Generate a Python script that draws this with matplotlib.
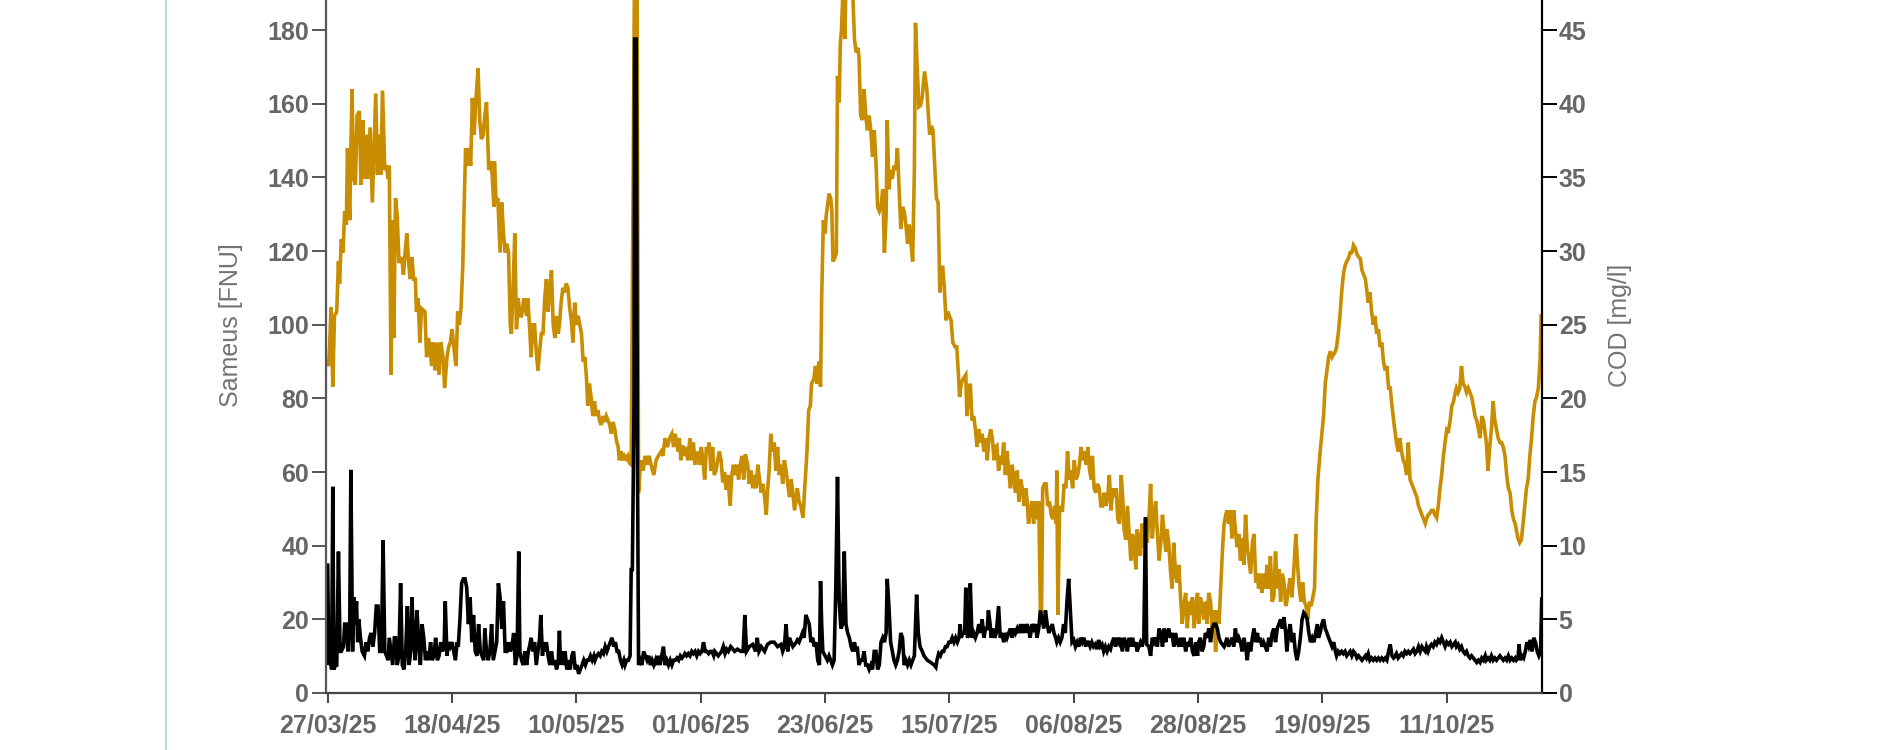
import datetime as dt
import matplotlib
matplotlib.use("Agg")
import matplotlib.pyplot as plt
import matplotlib.dates as mdates
from matplotlib import font_manager
from matplotlib.lines import Line2D

start_date = dt.datetime(2025, 3, 27)

# Sameus turbidity [FNU] (left axis): time in days after 27/03/25
sameus_day = [
    0.0, 0.2, 0.5, 0.7, 0.9, 1.1, 1.4, 1.6, 1.9, 2.2, 2.4, 2.8, 3.0, 3.3, 3.6, 3.9, 4.1, 4.4, 4.6, 4.8,
    5.1, 5.3, 5.5, 5.8, 6.1, 6.5, 6.8, 7.1, 7.4, 7.7, 8.0, 8.3, 8.6, 8.9, 9.2, 9.5, 9.8, 10.1, 10.4, 10.7,
    10.9, 11.2, 11.5, 11.8, 12.0, 12.3, 12.6, 12.9, 13.2, 13.5, 13.8, 14.1, 14.4, 14.7, 14.9, 15.2, 15.5, 15.8, 16.1, 16.4,
    16.7, 17.0, 17.3, 17.6, 17.9, 18.2, 18.5, 18.8, 19.1, 19.4, 19.7, 20.0, 20.3, 20.6, 20.8, 21.1, 21.4, 21.7, 22.0, 22.3,
    22.6, 22.9, 23.1, 23.4, 23.7, 24.0, 24.3, 24.6, 24.9, 25.2, 25.5, 25.8, 26.1, 26.4, 26.7, 27.0, 27.3, 27.6, 27.8, 28.1,
    28.4, 28.7, 29.0, 29.3, 29.6, 29.9, 30.2, 30.5, 30.8, 31.1, 31.4, 31.7, 32.0, 32.3, 32.6, 32.9, 33.2, 33.5, 33.8, 34.0,
    34.3, 34.6, 34.9, 35.2, 35.5, 35.7, 36.0, 36.3, 36.6, 36.9, 37.2, 37.5, 37.7, 38.0, 38.2, 38.4, 38.7, 39.0, 39.3, 39.6,
    39.9, 40.2, 40.5, 40.8, 41.0, 41.2, 41.5, 41.8, 42.0, 42.3, 42.6, 42.9, 43.2, 43.5, 43.8, 44.1, 44.4, 44.7, 45.0, 45.3,
    45.6, 45.9, 46.2, 46.5, 46.8, 47.1, 47.3, 47.6, 47.9, 48.2, 48.5, 48.8, 49.1, 49.4, 49.7, 50.0, 50.3, 50.6, 50.9, 51.2,
    51.5, 51.8, 52.1, 52.4, 52.6, 52.9, 53.2, 53.5, 53.7, 53.9, 54.2, 54.3, 54.6, 54.8, 55.0, 55.3, 55.6, 55.9, 56.2, 56.5,
    56.8, 57.1, 57.4, 57.7, 58.0, 58.2, 58.5, 58.8, 59.1, 59.4, 59.7, 60.0, 60.3, 60.6, 60.9, 61.2, 61.5, 61.8, 62.1, 62.4,
    62.7, 63.0, 63.2, 63.5, 63.8, 64.1, 64.4, 64.7, 65.0, 65.3, 65.6, 65.9, 66.2, 66.5, 66.8, 67.1, 67.4, 67.7, 68.0, 68.3,
    68.5, 68.8, 69.1, 69.4, 69.7, 70.0, 70.3, 70.6, 70.9, 71.3, 72.0, 72.5, 73.1, 73.5, 73.8, 74.1, 74.6, 75.2, 75.7, 76.0,
    76.3, 76.7, 77.3, 77.8, 78.4, 79.0, 79.6, 80.2, 80.5, 80.8, 81.1, 81.4, 81.7, 82.0, 82.3, 82.6, 82.9, 83.1, 83.4, 83.7,
    84.0, 84.3, 84.6, 84.9, 85.2, 85.5, 85.8, 86.1, 86.4, 86.7, 87.0, 87.2, 87.4, 87.6, 88.0, 88.4, 88.7, 89.0, 89.3, 89.6,
    89.9, 90.2, 90.5, 90.8, 91.1, 91.4, 91.7, 92.0, 92.3, 92.6, 92.9, 93.2, 93.5, 93.7, 94.0, 94.3, 94.6, 94.9, 95.2, 95.5,
    95.8, 96.1, 96.4, 96.7, 97.0, 97.3, 97.6, 97.9, 98.2, 98.5, 98.8, 99.0, 99.3, 99.6, 99.9, 100.2, 100.5, 100.8, 101.1, 101.4,
    101.7, 102.0, 102.3, 102.6, 102.9, 103.2, 103.5, 103.8, 104.2, 104.5, 104.8, 105.2, 105.5, 106.1, 106.7, 107.3, 107.6, 107.8, 108.1, 108.4,
    108.7, 109.0, 109.3, 109.6, 109.9, 110.2, 110.5, 110.8, 111.1, 111.4, 111.7, 111.9, 112.1, 112.4, 112.7, 112.9, 113.2, 113.5, 113.7, 114.0,
    114.3, 114.6, 114.9, 115.2, 115.5, 115.8, 116.1, 116.4, 116.7, 116.9, 117.2, 117.4, 117.7, 118.0, 118.3, 118.7, 119.0, 119.3, 119.6, 119.9,
    120.2, 120.5, 120.8, 121.1, 121.4, 121.7, 122.0, 122.3, 122.6, 122.9, 123.2, 123.5, 123.7, 124.0, 124.3, 124.6, 124.9, 125.2, 125.5, 125.8,
    126.1, 126.4, 126.7, 127.0, 127.3, 127.6, 127.9, 128.2, 128.5, 128.8, 129.0, 129.3, 129.6, 129.9, 130.2, 130.5, 130.8, 131.1, 131.4, 131.7,
    132.0, 132.3, 132.6, 132.9, 133.2, 133.5, 133.8, 134.1, 134.3, 134.6, 134.9, 135.2, 135.5, 135.8, 136.1, 136.4, 136.7, 137.0, 137.3, 137.6,
    137.9, 138.2, 138.5, 138.8, 139.1, 139.4, 139.7, 140.0, 140.2, 140.6, 140.9, 141.2, 141.5, 141.8, 142.1, 142.4, 142.7, 143.0, 143.2, 143.5,
    143.8, 144.1, 144.4, 144.7, 144.9, 145.3, 145.6, 145.9, 146.2, 146.5, 146.8, 147.1, 147.4, 147.7, 148.0, 148.3, 148.5, 148.8, 149.1, 149.4,
    149.7, 150.0, 150.3, 150.6, 150.9, 151.2, 151.5, 151.8, 152.1, 152.4, 152.7, 153.0, 153.3, 153.6, 153.9, 154.1, 154.4, 154.7, 155.0, 155.3,
    155.6, 155.9, 156.2, 156.5, 156.8, 157.1, 157.4, 157.7, 158.0, 158.3, 158.6, 158.9, 159.1, 159.4, 159.7, 160.0, 160.3, 160.6, 160.9, 161.2,
    161.5, 161.8, 162.1, 162.4, 162.7, 163.0, 163.3, 163.6, 163.9, 164.2, 164.5, 164.7, 165.0, 165.3, 165.6, 165.9, 166.2, 166.5, 166.8, 167.1,
    167.4, 167.7, 168.0, 168.3, 168.6, 168.9, 169.2, 169.5, 169.7, 170.0, 170.3, 170.6, 170.9, 171.2, 171.5, 171.8, 172.1, 172.4, 172.7, 173.0,
    173.3, 173.6, 173.9, 174.2, 174.5, 174.8, 175.1, 175.3, 175.6, 175.9, 176.2, 176.5, 176.8, 177.1, 177.4, 177.7, 178.0, 178.3, 178.5, 178.8,
    179.1, 179.4, 179.7, 180.0, 180.3, 180.6, 180.9, 181.2, 181.5, 181.8, 182.1, 182.4, 182.7, 183.0, 183.3, 183.6, 183.8, 184.1, 184.4, 184.7,
    185.0, 185.3, 185.6, 185.9, 186.2, 186.5, 186.8, 187.1, 187.4, 187.7, 188.0, 188.3, 188.6, 188.9, 189.1, 189.4, 189.7, 190.0, 190.3, 190.6,
    190.9, 191.2, 191.5, 191.8, 192.1, 192.4, 192.7, 193.0, 193.3, 193.6, 193.9, 194.2, 194.4, 194.7, 195.0, 195.3, 195.6, 195.9, 196.2, 196.5,
    196.8, 197.1, 197.4, 197.7, 198.0, 198.3, 198.6, 198.9, 199.2, 199.5, 199.7, 200.0, 200.3, 200.6, 200.9, 201.2, 201.5, 201.8, 202.1, 202.4,
    202.7, 203.0, 203.3, 203.6, 203.9, 204.2, 204.5, 204.8, 205.0, 205.3, 205.6, 205.9, 206.2, 206.5, 206.8, 207.1, 207.4, 207.7, 208.0, 208.3,
    208.6, 208.9, 209.2, 209.5, 209.8, 210.1, 210.3, 210.6, 210.8, 211.0, 211.3, 211.6, 211.9, 212.2, 212.5, 212.8, 213.1, 213.4, 213.7, 214.0,
    214.3, 214.6, 214.8,
]
sameus_fnu = [
    34.7, 7.6, 8.9, 6.4, 56.0, 6.4, 7.6, 7.6, 38.4, 11.3, 11.3, 12.6, 18.7, 18.7, 11.3, 18.7, 60.6, 11.3, 26.0, 18.7,
    24.9, 13.8, 20.0, 15.0, 11.3, 10.1, 13.8, 11.3, 15.0, 16.3, 12.6, 16.3, 23.6, 23.6, 11.3, 11.3, 41.5, 11.3, 10.1, 8.9,
    15.0, 11.3, 7.6, 15.0, 15.0, 7.6, 10.1, 29.8, 7.6, 6.4, 11.3, 23.6, 7.6, 11.3, 26.0, 15.0, 8.9, 22.4, 13.8, 7.6,
    18.7, 15.0, 8.9, 11.3, 8.9, 13.8, 8.9, 10.1, 15.0, 8.9, 10.1, 13.8, 11.3, 12.6, 24.9, 10.1, 13.8, 12.6, 13.8, 11.3,
    8.9, 13.8, 12.6, 20.0, 29.8, 31.0, 31.0, 28.6, 18.7, 26.0, 13.8, 21.2, 11.3, 10.1, 18.7, 11.3, 10.1, 8.9, 17.5, 11.3,
    8.9, 11.3, 18.7, 8.9, 11.3, 13.8, 29.8, 26.0, 17.5, 24.9, 11.3, 11.3, 13.8, 11.3, 12.6, 16.3, 7.6, 10.1, 38.4, 11.3,
    8.9, 7.6, 11.3, 7.6, 11.3, 12.6, 15.0, 11.3, 13.8, 7.6, 11.3, 15.0, 21.2, 10.1, 13.8, 11.3, 13.8, 10.1, 7.6, 11.3,
    7.6, 8.9, 6.4, 8.9, 16.9, 7.6, 11.3, 7.6, 11.3, 6.4, 8.9, 6.4, 10.1, 11.3, 6.4, 7.6, 5.2, 6.4, 7.6, 8.9,
    7.6, 8.9, 8.9, 10.1, 8.9, 10.1, 8.9, 10.1, 10.7, 10.1, 11.3, 10.7, 12.6, 11.3, 12.6, 13.8, 15.0, 12.6, 13.8, 11.3,
    11.3, 8.9, 7.6, 8.9, 7.6, 8.9, 8.9, 10.1, 33.5, 33.5, 77.8, 177.6, 177.6, 65.5, 7.6, 8.9, 7.6, 11.3, 10.1, 8.9,
    10.1, 7.6, 8.9, 7.6, 8.9, 7.6, 10.1, 7.6, 10.1, 12.6, 7.6, 8.9, 7.6, 8.9, 7.6, 8.9, 8.9, 9.5, 8.9, 10.1,
    9.5, 10.1, 10.7, 10.1, 10.7, 10.1, 11.3, 10.7, 11.3, 10.1, 11.3, 10.7, 11.3, 13.8, 11.3, 11.3, 10.7, 11.3, 11.3, 10.1,
    11.3, 10.7, 10.1, 10.7, 11.3, 12.6, 10.7, 11.9, 11.3, 12.6, 11.3, 11.9, 11.3, 11.3, 21.2, 11.3, 12.6, 13.2, 11.3, 15.0,
    11.3, 12.6, 11.3, 13.2, 13.8, 13.8, 12.6, 13.2, 11.3, 12.6, 18.7, 11.3, 15.0, 13.8, 12.6, 13.2, 13.8, 14.4, 13.8, 15.0,
    16.3, 15.0, 21.2, 20.0, 18.7, 13.8, 15.0, 12.6, 13.8, 8.9, 7.6, 30.4, 18.7, 11.3, 10.1, 8.9, 10.1, 8.9, 7.6, 8.9,
    28.6, 58.7, 24.9, 17.5, 18.7, 38.4, 18.7, 16.3, 15.0, 12.6, 11.3, 13.8, 11.3, 12.6, 7.6, 8.9, 8.9, 11.3, 7.6, 7.6,
    6.4, 7.6, 6.4, 11.3, 11.3, 6.4, 7.6, 13.8, 15.0, 13.8, 16.3, 31.0, 23.6, 13.8, 11.3, 8.9, 7.6, 8.9, 11.3, 16.3,
    15.0, 7.6, 8.9, 7.6, 8.9, 7.6, 8.9, 10.1, 26.7, 16.3, 12.6, 11.3, 10.1, 8.9, 8.3, 7.6, 7.0, 8.9, 10.7, 10.1,
    11.3, 11.3, 12.6, 12.6, 13.8, 13.8, 15.0, 13.8, 15.0, 13.8, 15.0, 18.7, 15.0, 16.3, 16.3, 28.6, 15.0, 16.3, 29.8, 15.0,
    16.3, 15.0, 16.3, 18.7, 16.3, 20.0, 15.0, 17.5, 17.5, 22.4, 18.7, 15.0, 17.5, 15.0, 16.3, 23.6, 15.0, 16.3, 13.8, 16.3,
    15.0, 16.3, 17.5, 15.0, 17.5, 16.3, 17.5, 16.3, 18.7, 16.3, 18.7, 16.3, 18.7, 17.5, 15.0, 18.7, 17.5, 18.7, 15.0, 17.5,
    22.4, 20.0, 17.5, 22.4, 18.7, 16.3, 17.5, 18.7, 16.3, 15.0, 13.8, 15.0, 13.8, 15.0, 18.7, 16.3, 24.9, 31.0, 22.4, 13.8,
    14.4, 12.6, 13.8, 12.6, 15.0, 13.8, 15.0, 12.6, 13.8, 13.8, 12.6, 13.8, 12.6, 13.2, 11.9, 14.4, 12.6, 13.2, 11.3, 12.6,
    11.3, 12.6, 11.9, 13.8, 15.0, 12.6, 15.0, 13.8, 15.0, 11.3, 15.0, 13.8, 11.3, 15.0, 12.6, 15.0, 12.6, 13.8, 11.3, 12.6,
    13.8, 12.6, 15.0, 47.7, 13.2, 12.6, 10.1, 15.0, 13.8, 15.0, 12.6, 17.5, 16.3, 12.6, 17.5, 13.8, 16.3, 17.5, 15.0, 16.3,
    12.6, 16.3, 13.8, 12.6, 15.0, 12.6, 15.0, 11.3, 13.8, 12.6, 15.0, 11.3, 10.1, 13.8, 10.1, 13.8, 15.0, 11.3, 12.6, 16.3,
    15.0, 17.5, 13.8, 17.5, 18.7, 18.7, 17.5, 15.0, 13.8, 13.2, 12.6, 13.8, 15.0, 12.6, 13.8, 15.0, 12.6, 17.5, 13.8, 15.0,
    13.8, 11.3, 15.0, 12.6, 8.9, 13.8, 11.3, 15.0, 17.5, 13.8, 16.3, 13.8, 15.0, 12.6, 13.8, 12.6, 11.3, 15.0, 12.6, 16.3,
    17.5, 13.8, 17.5, 18.7, 20.0, 17.5, 20.6, 16.3, 11.3, 16.3, 18.7, 13.8, 16.3, 11.3, 8.9, 11.3, 15.0, 20.0, 21.8, 21.2,
    20.0, 16.3, 13.8, 15.0, 13.8, 16.3, 18.7, 15.0, 16.3, 18.7, 20.0, 17.5, 16.3, 15.0, 13.8, 12.6, 13.8, 11.3, 10.1, 11.3,
    10.7, 11.3, 10.7, 11.3, 10.1, 10.7, 11.3, 10.1, 11.3, 10.7, 9.5, 10.1, 9.5, 8.9, 9.5, 10.1, 9.5, 10.7, 8.9, 9.5,
    8.9, 9.5, 8.9, 9.5, 8.9, 9.5, 8.9, 9.5, 8.9, 11.3, 13.2, 10.1, 9.5, 10.1, 10.7, 9.5, 10.1, 10.7, 10.1, 11.3,
    10.7, 11.3, 10.7, 11.3, 11.9, 10.7, 11.3, 12.6, 11.3, 12.6, 11.9, 11.3, 12.6, 11.3, 12.6, 13.2, 12.6, 13.8, 13.2, 14.4,
    13.8, 15.0, 13.8, 12.6, 13.8, 13.2, 13.8, 12.6, 13.2, 13.8, 12.6, 13.2, 11.9, 12.6, 11.3, 10.7, 11.3, 10.1, 9.5, 10.1,
    9.5, 8.9, 8.3, 8.9, 8.3, 9.5, 8.9, 10.1, 8.9, 9.5, 8.9, 10.1, 8.9, 9.5, 8.9, 9.5, 10.1, 9.5, 8.9, 9.5,
    8.9, 10.1, 8.9, 9.5, 8.9, 9.5, 8.9, 9.5, 13.2, 8.9, 10.1, 9.5, 11.3, 13.8, 12.6, 14.4, 11.3, 15.0, 13.8, 11.3,
    10.1, 11.3, 25.5,
]

# COD [mg/l] (right axis): time in days after 27/03/25
cod_day = [
    0.0, 0.2, 0.6, 0.9, 1.2, 1.6, 1.9, 2.1, 2.4, 2.7, 3.0, 3.3, 3.5, 3.9, 4.1, 4.3, 4.6, 4.9, 5.2, 5.6,
    5.9, 6.2, 6.5, 6.8, 7.1, 7.5, 7.9, 8.2, 8.5, 8.8, 9.1, 9.4, 9.7, 10.1, 10.4, 10.7, 10.9, 11.2, 11.5, 11.7,
    12.0, 12.3, 12.6, 12.9, 13.1, 13.4, 13.7, 14.0, 14.3, 14.6, 14.9, 15.2, 15.5, 15.7, 16.0, 16.3, 16.6, 17.2, 17.5, 17.8,
    18.1, 18.4, 18.6, 19.0, 19.3, 19.7, 20.0, 20.4, 20.7, 21.1, 21.4, 21.7, 22.0, 22.4, 22.7, 23.0, 23.3, 23.6, 23.9, 24.1,
    24.4, 24.7, 25.0, 25.3, 25.6, 25.9, 26.2, 26.6, 26.9, 27.2, 27.5, 27.8, 28.1, 28.5, 28.8, 29.1, 29.4, 29.5, 29.8, 30.1,
    30.5, 30.8, 31.1, 31.4, 31.7, 32.0, 32.3, 32.5, 32.8, 33.1, 33.4, 33.7, 34.0, 34.3, 34.7, 35.2, 35.4, 35.7, 36.0, 36.3,
    36.6, 36.9, 37.2, 37.5, 37.8, 38.1, 38.4, 38.7, 39.0, 39.3, 39.6, 39.9, 40.2, 40.5, 40.8, 41.0, 41.3, 41.6, 41.9, 42.2,
    42.5, 42.8, 43.1, 43.4, 43.7, 44.0, 44.3, 44.6, 44.9, 45.2, 45.5, 45.8, 46.0, 46.3, 46.6, 46.9, 47.2, 47.5, 47.8, 48.1,
    48.4, 48.7, 49.0, 49.3, 49.6, 49.9, 50.2, 50.5, 50.8, 51.1, 51.4, 51.6, 51.9, 52.2, 52.5, 52.8, 53.1, 53.4, 53.7, 54.2,
    54.4, 54.7, 55.0, 55.4, 55.8, 56.2, 56.5, 56.9, 57.2, 57.7, 58.1, 58.5, 59.0, 59.3, 59.7, 60.1, 60.5, 60.9, 61.2, 61.5,
    62.0, 62.2, 62.5, 62.8, 63.1, 63.4, 63.7, 64.1, 64.4, 64.7, 65.0, 65.4, 65.8, 66.1, 66.4, 66.7, 67.0, 67.3, 67.5, 67.8,
    68.1, 68.4, 68.7, 69.0, 69.3, 69.6, 69.9, 70.2, 70.5, 70.8, 71.2, 71.5, 71.8, 72.1, 72.4, 72.7, 73.0, 73.3, 73.6, 73.9,
    74.3, 74.6, 74.9, 75.2, 75.5, 75.8, 76.1, 76.4, 76.7, 77.0, 77.3, 77.6, 77.8, 78.1, 78.4, 78.7, 79.0, 79.3, 79.6, 79.9,
    80.2, 80.5, 80.8, 81.1, 81.4, 81.7, 82.0, 82.3, 82.6, 82.9, 83.1, 83.4, 83.7, 84.1, 84.4, 84.8, 85.1, 85.4, 85.6, 86.0,
    86.3, 86.6, 86.9, 87.2, 87.4, 87.7, 88.0, 88.2, 88.4, 88.7, 89.0, 89.2, 89.4, 89.7, 90.0, 90.2, 90.5, 90.7, 90.9, 91.2,
    91.5, 91.7, 92.0, 92.5, 92.9, 93.2, 93.5, 93.8, 94.0, 94.3, 94.6, 94.9, 95.2, 95.5, 95.8, 96.1, 96.4, 96.7, 97.0, 97.3,
    97.6, 97.9, 98.2, 98.5, 98.8, 99.0, 99.3, 99.6, 99.9, 100.2, 100.5, 100.8, 101.1, 101.4, 101.7, 102.0, 102.3, 102.6, 102.9, 103.2,
    103.5, 103.8, 104.0, 104.3, 104.6, 104.9, 105.2, 105.6, 106.0, 106.2, 106.5, 106.8, 107.1, 107.4, 107.7, 108.0, 108.3, 108.6, 108.8, 109.1,
    109.4, 109.7, 110.0, 110.3, 110.6, 111.0, 111.3, 111.6, 111.8, 112.1, 112.4, 112.9, 113.1, 113.4, 113.7, 114.0, 114.3, 114.6, 114.9, 115.2,
    115.5, 115.8, 116.1, 116.4, 116.7, 117.0, 117.3, 117.6, 117.9, 118.1, 118.4, 118.7, 119.0, 119.3, 119.6, 119.9, 120.2, 120.5, 120.8, 121.1,
    121.4, 121.7, 122.0, 122.3, 122.6, 122.9, 123.2, 123.5, 123.7, 124.0, 124.3, 124.6, 124.9, 125.2, 125.5, 125.8, 126.1, 126.3, 126.5, 126.8,
    127.1, 127.4, 127.7, 128.0, 128.3, 128.6, 128.9, 129.0, 129.2, 129.5, 129.8, 130.0, 130.3, 130.6, 130.9, 131.2, 131.5, 131.8, 132.1, 132.4,
    132.7, 133.0, 133.3, 133.6, 133.9, 134.2, 134.5, 134.8, 135.1, 135.3, 135.6, 135.9, 136.2, 136.5, 136.8, 137.1, 137.4, 137.7, 138.0, 138.3,
    138.6, 138.9, 139.2, 139.5, 139.8, 140.1, 140.4, 140.7, 140.9, 141.2, 141.5, 141.8, 142.1, 142.4, 142.7, 143.0, 143.2, 143.5, 143.8, 144.1,
    144.4, 144.7, 145.0, 145.3, 145.6, 145.9, 146.2, 146.5, 146.8, 147.1, 147.4, 147.7, 148.0, 148.3, 148.5, 148.8, 149.1, 149.4, 149.7, 150.0,
    150.3, 150.6, 150.9, 151.2, 151.5, 151.8, 152.1, 152.4, 152.7, 153.0, 153.3, 153.6, 153.9, 154.1, 154.4, 154.7, 155.0, 155.3, 155.6, 155.9,
    156.2, 156.5, 156.8, 157.1, 157.4, 157.7, 158.0, 158.3, 158.6, 158.9, 159.1, 159.4, 159.7, 160.0, 160.3, 160.6, 160.9, 161.2, 161.5, 161.8,
    162.1, 162.4, 162.7, 163.0, 163.3, 163.6, 163.9, 164.2, 164.5, 164.7, 165.0, 165.3, 165.6, 165.9, 166.2, 166.5, 166.8, 167.1, 167.4, 167.7,
    168.0, 168.3, 168.6, 168.9, 169.2, 169.5, 169.7, 170.0, 170.3, 170.6, 170.9, 171.3, 171.6, 171.9, 172.2, 172.5, 172.8, 173.1, 173.4, 173.7,
    174.0, 174.3, 174.6, 174.9, 175.2, 175.6, 175.9, 176.2, 176.5, 176.8, 177.1, 177.4, 177.7, 178.0, 178.3, 178.5, 178.8, 179.1, 179.4, 179.7,
    180.0, 180.3, 180.6, 180.9, 181.2, 181.5, 181.8, 182.1, 182.4, 182.7, 183.0, 183.3, 183.6, 183.8, 184.1, 184.4, 184.7, 185.0, 185.3, 185.6,
    185.9, 186.2, 186.5, 186.8, 187.1, 187.4, 187.7, 188.0, 188.3, 188.6, 188.9, 189.1, 189.4, 189.7, 190.0, 190.3, 190.6, 190.9, 191.2, 191.5,
    191.8, 192.1, 192.4, 192.7, 193.0, 193.3, 193.6, 193.9, 194.2, 194.4, 194.7, 195.0, 195.3, 195.6, 195.9, 196.2, 196.5, 196.8, 197.1, 197.4,
    197.7, 198.0, 198.3, 198.6, 198.9, 199.2, 199.5, 199.7, 200.0, 200.3, 200.6, 200.9, 201.2, 201.5, 201.8, 202.1, 202.4, 202.7, 203.0, 203.3,
    203.6, 203.9, 204.2, 204.5, 204.8, 205.0, 205.3, 205.6, 205.9, 206.2, 206.5, 206.8, 207.1, 207.4, 207.7, 208.0, 208.3, 208.6, 208.9, 209.2,
    209.5, 209.8, 210.1, 210.3, 210.6, 210.9, 211.2, 211.5, 211.8, 212.1, 212.4, 212.7, 213.0, 213.3, 213.6, 213.9, 214.2, 214.5, 214.7,
]
cod_mgl = [
    22.5, 22.2, 26.2, 20.8, 25.6, 25.9, 29.3, 27.8, 30.8, 29.9, 32.7, 31.8, 37.0, 32.1, 37.0, 41.0, 34.9, 34.5, 39.2, 39.5,
    34.5, 38.9, 34.9, 37.9, 34.9, 38.4, 33.3, 37.0, 40.7, 35.2, 37.9, 35.2, 40.9, 35.5, 35.8, 34.9, 35.8, 21.6, 32.1, 24.1,
    33.6, 32.4, 29.3, 29.3, 29.6, 28.4, 29.9, 31.2, 29.3, 28.1, 29.6, 28.1, 28.1, 25.9, 26.8, 23.8, 26.1, 25.9, 22.8, 24.1,
    23.5, 22.2, 23.8, 21.9, 23.8, 21.6, 23.8, 22.8, 20.7, 22.8, 23.5, 23.8, 24.7, 23.2, 22.2, 25.9, 25.0, 26.2, 29.0, 32.4,
    37.0, 35.8, 37.0, 35.8, 40.4, 37.9, 40.1, 42.4, 38.9, 37.6, 37.9, 39.2, 40.1, 35.5, 36.1, 35.2, 33.0, 36.1, 33.3, 33.6,
    29.9, 33.3, 31.2, 29.9, 30.5, 29.9, 25.0, 24.4, 27.5, 31.2, 24.7, 26.8, 25.6, 25.6, 26.8, 25.6, 26.8, 25.0, 22.8, 25.0,
    25.0, 23.2, 21.9, 23.2, 24.4, 24.4, 26.8, 28.1, 25.9, 27.5, 28.7, 25.0, 24.1, 25.6, 24.4, 25.0, 26.5, 27.5, 27.2, 27.8,
    27.5, 26.2, 25.3, 23.8, 26.5, 25.0, 25.6, 25.0, 24.4, 22.5, 22.8, 21.3, 19.5, 21.0, 20.1, 18.8, 19.8, 18.8, 19.2, 18.5,
    18.2, 18.8, 18.4, 18.8, 18.5, 18.2, 17.6, 18.4, 17.9, 17.1, 16.7, 15.8, 16.4, 15.8, 16.1, 15.9, 16.1, 15.6, 15.5, 45.0,
    53.0, 53.0, 13.6, 15.8, 15.1, 16.1, 15.5, 16.1, 15.5, 14.8, 15.8, 16.1, 16.4, 16.1, 17.3, 16.7, 17.3, 17.6, 16.7, 17.6,
    16.4, 17.3, 15.8, 16.8, 16.1, 16.7, 15.8, 17.3, 15.8, 17.0, 15.5, 16.4, 15.5, 16.7, 15.8, 14.5, 16.7, 16.4, 17.0, 15.1,
    16.7, 14.8, 15.1, 15.8, 16.4, 15.8, 14.3, 15.0, 13.8, 14.8, 12.7, 14.8, 15.5, 14.8, 15.5, 14.5, 15.5, 16.1, 14.5, 16.2,
    15.5, 14.2, 15.1, 13.9, 14.8, 13.9, 15.5, 14.5, 13.6, 14.2, 13.3, 12.1, 13.6, 15.1, 17.6, 16.4, 17.0, 15.1, 16.7, 14.8,
    15.5, 14.2, 15.8, 15.1, 14.2, 13.3, 14.5, 13.6, 12.4, 13.3, 13.9, 13.0, 12.7, 11.9, 13.9, 16.4, 19.2, 19.5, 21.0, 21.3,
    22.2, 21.0, 22.5, 20.8, 26.8, 32.1, 31.2, 32.4, 33.0, 33.9, 33.6, 32.7, 29.3, 29.5, 29.9, 41.9, 40.1, 44.1, 45.0, 48.0,
    44.4, 48.5, 49.0, 48.0, 47.5, 44.4, 43.5, 43.8, 43.2, 39.2, 38.9, 41.0, 39.2, 38.2, 39.2, 38.2, 36.4, 38.2, 36.1, 33.0,
    32.7, 33.0, 34.2, 29.9, 32.4, 38.9, 34.2, 35.5, 34.9, 35.8, 35.5, 37.0, 34.2, 31.5, 33.0, 32.7, 31.8, 30.5, 31.8, 30.5,
    29.3, 35.5, 45.5, 42.5, 39.8, 39.9, 40.5, 42.2, 41.0, 39.8, 37.9, 38.5, 38.2, 35.8, 33.6, 33.3, 27.2, 28.7, 29.0, 27.5,
    25.3, 25.9, 25.6, 25.3, 23.8, 23.5, 23.5, 21.6, 20.1, 21.0, 21.3, 21.6, 18.8, 20.1, 21.0, 18.5, 18.8, 17.9, 16.7, 17.9,
    17.0, 17.6, 16.4, 17.3, 15.8, 17.3, 17.9, 17.3, 15.8, 16.7, 16.8, 15.1, 16.1, 15.5, 17.0, 14.8, 16.4, 15.1, 13.9, 15.5,
    14.5, 13.6, 15.1, 13.0, 14.5, 13.9, 12.7, 13.9, 13.3, 11.5, 12.4, 13.0, 11.5, 13.0, 11.8, 13.0, 5.6, 5.3, 13.9, 14.2,
    14.2, 12.7, 13.0, 12.1, 11.8, 12.7, 11.5, 15.1, 5.3, 12.7, 12.4, 12.4, 14.2, 13.9, 16.4, 14.5, 15.1, 13.9, 15.8, 14.5,
    14.8, 15.5, 16.7, 15.8, 16.4, 15.5, 16.7, 15.1, 14.5, 16.1, 13.9, 13.6, 14.2, 13.9, 12.7, 12.7, 13.6, 12.7, 13.3, 14.8,
    12.4, 13.9, 13.3, 13.9, 11.8, 11.5, 14.8, 13.0, 11.1, 10.4, 12.7, 10.8, 9.0, 10.8, 9.9, 8.4, 11.1, 10.5, 9.3, 11.5,
    9.9, 10.8, 10.2, 11.8, 14.2, 10.5, 12.1, 13.0, 10.8, 9.0, 10.2, 12.1, 10.8, 9.6, 11.1, 10.2, 8.4, 7.1, 10.2, 8.1,
    7.5, 8.7, 6.5, 4.7, 5.9, 6.8, 4.4, 6.2, 5.3, 6.5, 4.4, 5.9, 6.8, 4.7, 6.5, 5.9, 5.0, 6.2, 4.7, 6.8,
    6.2, 4.4, 5.6, 2.8, 5.6, 4.7, 7.1, 9.6, 11.5, 12.1, 12.4, 11.5, 12.4, 10.5, 12.4, 11.1, 9.9, 10.8, 9.0, 10.5,
    8.7, 12.1, 9.9, 9.0, 8.1, 10.2, 10.8, 7.5, 8.1, 7.1, 8.1, 6.8, 8.1, 7.1, 8.7, 7.1, 9.3, 6.2, 6.5, 9.6,
    7.1, 8.4, 6.2, 8.1, 7.5, 5.9, 6.2, 7.1, 7.8, 6.5, 8.1, 10.8, 8.7, 7.1, 6.2, 7.5, 6.2, 5.9, 5.0, 6.2,
    5.9, 6.5, 7.1, 11.8, 14.5, 16.4, 17.6, 18.8, 21.0, 21.9, 22.8, 23.2, 22.8, 23.0, 23.2, 23.5, 24.4, 25.6, 27.2, 28.4,
    29.0, 29.3, 29.5, 29.9, 29.9, 30.4, 30.2, 29.8, 29.6, 29.5, 28.7, 28.4, 28.1, 27.5, 26.5, 27.2, 25.9, 25.0, 25.6, 24.4,
    24.7, 23.5, 23.8, 22.5, 21.9, 22.2, 20.7, 20.7, 19.5, 18.5, 17.6, 17.0, 16.4, 17.3, 16.4, 15.8, 15.5, 14.8, 17.0, 14.5,
    14.2, 13.9, 13.6, 13.3, 12.7, 12.4, 12.1, 11.8, 11.5, 11.8, 12.1, 12.2, 12.4, 12.4, 12.1, 11.9, 12.7, 13.9, 14.8, 16.1,
    17.0, 17.9, 17.8, 18.5, 19.5, 19.8, 20.4, 20.7, 20.4, 20.7, 22.2, 21.0, 20.8, 20.4, 20.7, 20.4, 20.1, 19.5, 18.8, 18.5,
    17.9, 17.3, 18.8, 18.5, 17.6, 17.0, 15.1, 16.7, 17.9, 19.8, 18.5, 17.9, 17.3, 17.0, 17.0, 16.7, 16.1, 14.8, 13.9, 13.6,
    12.4, 11.8, 11.5, 11.1, 10.5, 10.2, 10.4, 11.5, 12.7, 13.9, 14.5, 16.1, 17.3, 18.8, 19.8, 20.1, 20.7, 22.5, 25.6,
]

tick_dates = ["2025-03-27", "2025-04-18", "2025-05-10", "2025-06-01", "2025-06-23",
              "2025-07-15", "2025-08-06", "2025-08-28", "2025-09-19", "2025-10-11"]
left_ticks = [0, 20, 40, 60, 80, 100, 120, 140, 160, 180]
right_ticks = [0, 5, 10, 15, 20, 25, 30, 35, 40, 45]

ORANGE = "#C88D00"
TICK_GRAY = "#666666"
LABEL_GRAY = "#737373"

names = {f.name for f in font_manager.fontManager.ttflist}
label_family = "Liberation Sans Narrow" if "Liberation Sans Narrow" in names else "Liberation Sans"
tick_family = "Liberation Sans"

fig = plt.figure(figsize=(19, 7.5), dpi=100)
ax = fig.add_axes([326 / 1900, 57 / 750, 1216 / 1900, 693 / 750])
ax2 = ax.twinx()
ax.set_zorder(ax2.get_zorder() + 1)
ax.patch.set_visible(False)

s_x = [start_date + dt.timedelta(days=d) for d in sameus_day]
c_x = [start_date + dt.timedelta(days=d) for d in cod_day]

ax2.plot(c_x, cod_mgl, color=ORANGE, lw=2.6, solid_joinstyle="miter")
ax.plot(s_x, sameus_fnu, color="black", lw=2.6, solid_joinstyle="miter")

ax.set_xlim(start_date - dt.timedelta(days=0.3), start_date + dt.timedelta(days=214.85))
ax.set_ylim(0, 188.2)
ax2.set_ylim(0, 47.05)

ax.set_xticks([dt.datetime.strptime(d, "%Y-%m-%d") for d in tick_dates])
ax.xaxis.set_major_formatter(mdates.DateFormatter("%d/%m/%y"))
ax.set_yticks(left_ticks)
ax2.set_yticks(right_ticks)

for a in (ax, ax2):
    a.spines["top"].set_visible(False)
ax.spines["right"].set_visible(False)
ax2.spines["left"].set_visible(False)
ax2.spines["bottom"].set_visible(False)
ax.spines["left"].set_color("#555555")
ax.spines["bottom"].set_color("#444444")
ax2.spines["right"].set_color("black")
for sp in (ax.spines["left"], ax.spines["bottom"], ax2.spines["right"]):
    sp.set_linewidth(1.6)

tick_font = dict(family=tick_family, weight="bold", size=18)
ax.tick_params(axis="y", length=10, width=1.4, color="#555555", pad=2, labelcolor=TICK_GRAY)
ax.tick_params(axis="x", length=7, width=1.4, color="#444444", pad=8, labelcolor=TICK_GRAY)
ax2.tick_params(axis="y", length=11, width=1.4, color="black", pad=1, labelcolor=TICK_GRAY)
for lab in ax.get_xticklabels() + ax.get_yticklabels() + ax2.get_yticklabels():
    lab.set_fontproperties(font_manager.FontProperties(**tick_font))

fig.text(231 / 1900, 1 - 325 / 750, "Sameus [FNU]", rotation=90, ha="center", va="center",
         color=LABEL_GRAY, fontsize=18, family=label_family)
fig.text(1620 / 1900, 1 - 325 / 750, "COD [mg/l]", rotation=90, ha="center", va="center",
         color=LABEL_GRAY, fontsize=18, family=label_family)

fig.add_artist(Line2D([166 / 1900, 166 / 1900], [0, 1], transform=fig.transFigure,
                      color="#b9ddd3", lw=1.5))

fig.savefig("out.png", dpi=100)
